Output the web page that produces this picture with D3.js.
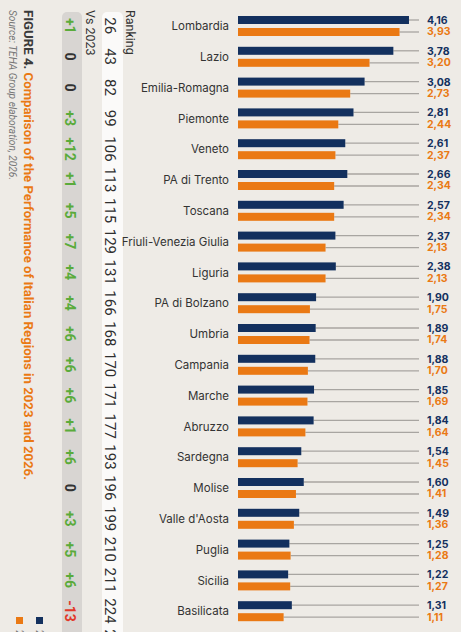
<!DOCTYPE html>
<html lang="en">
<head>
    <meta charset="UTF-8">
    <title>Italian Regions 2023 and 2026</title>
    <script src="https://cdn.jsdelivr.net/npm/d3@7"></script>
    <style>
        body { margin: 0; background: #eeebe6; }
        svg { display: block; }
    </style>
</head>
<body>
<div id="my_dataviz"></div>
<script>

    // data
    const regions = ["Lombardia", "Lazio", "Emilia-Romagna", "Piemonte", "Veneto", "PA di Trento",
        "Toscana", "Friuli-Venezia Giulia", "Liguria", "PA di Bolzano", "Umbria", "Campania",
        "Marche", "Abruzzo", "Sardegna", "Molise", "Valle d'Aosta", "Puglia", "Sicilia",
        "Basilicata", "Calabria"];
    const values2023 = [4.16, 3.78, 3.08, 2.81, 2.61, 2.66, 2.57, 2.37, 2.38, 1.90, 1.89, 1.88,
        1.85, 1.84, 1.54, 1.60, 1.49, 1.25, 1.22, 1.31, 1.00];
    const values2026 = [3.93, 3.20, 2.73, 2.44, 2.37, 2.34, 2.34, 2.13, 2.13, 1.75, 1.74, 1.70,
        1.69, 1.64, 1.45, 1.41, 1.36, 1.28, 1.27, 1.11, 0.95];
    const ranking = ["26", "43", "82", "99", "106", "113", "115", "129", "131", "166", "168", "170",
        "171", "177", "193", "196", "199", "210", "211", "224", "226"];
    const vs2023 = ["+1", "0", "0", "+3", "+12", "+1", "+5", "+7", "+4", "+4", "+6", "+6",
        "+6", "+1", "+6", "0", "+3", "+5", "+6", "-13", "-2"];
    const seriesNames = ["2023", "2026"];

    var width = 461,
        height = 632;
    var navy = "#13305e", orange = "#ea7914";

    var svg = d3.select("#my_dataviz")
        .append("svg")
        .attr("width", width)
        .attr("height", height);

    svg.append("rect")
        .attr("width", width)
        .attr("height", height)
        .attr("fill", "#eeebe6");

    // rows and bars
    const y = d3.scaleBand()
        .domain(regions)
        .range([10.4, 10.4 + regions.length * 30.8]);
    const ySub = d3.scaleBand()
        .domain(seriesNames)
        .range([5.6, 25.6])
        .paddingInner(1 / 3);
    const x = d3.scaleLinear()
        .domain([0, 5])
        .range([238, 443.5]);
    const color = d3.scaleOrdinal().domain(seriesNames).range([navy, orange]);

    const rows = regions.map((r, i) => ({
        region: r,
        rank: ranking[i],
        vs: vs2023[i],
        vals: [{s: "2023", v: values2023[i]}, {s: "2026", v: values2026[i]}]
    }));

    // column strips
    svg.append("rect")
        .attr("x", 102).attr("y", 12)
        .attr("width", 21).attr("height", height + 20)
        .attr("rx", 5)
        .attr("fill", "#fbfaf9");
    svg.append("rect")
        .attr("x", 62).attr("y", 12)
        .attr("width", 20).attr("height", height + 20)
        .attr("rx", 5)
        .attr("fill", "#d8d5d2");

    const row = svg.selectAll(".row")
        .data(rows)
        .enter()
        .append("g")
        .attr("class", "row")
        .attr("transform", d => "translate(0," + y(d.region) + ")");

    row.append("text")
        .attr("x", 229)
        .attr("y", y.bandwidth() / 2 + 0.5)
        .attr("text-anchor", "end")
        .attr("dominant-baseline", "central")
        .style("font-family", "Inter, 'Noto Sans', sans-serif")
        .style("font-size", "11.5px")
        .attr("fill", "#333")
        .text(d => d.region);

    const bar = row.selectAll(".bar")
        .data(d => d.vals)
        .enter()
        .append("g")
        .attr("class", "bar");

    bar.append("line")
        .attr("x1", d => x(d.v))
        .attr("x2", 419)
        .attr("y1", d => ySub(d.s) + ySub.bandwidth() / 2)
        .attr("y2", d => ySub(d.s) + ySub.bandwidth() / 2)
        .attr("stroke", "#a8a5a1")
        .attr("stroke-width", 1.3);

    bar.append("rect")
        .attr("x", x(0))
        .attr("y", d => ySub(d.s))
        .attr("width", d => x(d.v) - x(0))
        .attr("height", ySub.bandwidth())
        .attr("fill", d => color(d.s));

    bar.append("text")
        .attr("x", 427)
        .attr("y", d => ySub(d.s) + ySub.bandwidth() / 2 + (d.s === "2023" ? 0.5 : 0))
        .attr("dominant-baseline", "central")
        .style("font-family", "Inter, 'Noto Sans', sans-serif")
        .style("font-size", "10.5px")
        .style("font-weight", 700)
        .attr("fill", d => color(d.s))
        .text(d => d3.format(".2f")(d.v).replace(".", ","));

    // rotated columns
    row.append("text")
        .attr("transform", "translate(104.5," + (y.bandwidth() / 2) + ") rotate(90)")
        .attr("text-anchor", "middle")
        .style("font-family", "Roboto, sans-serif")
        .style("font-size", "15px")
        .attr("fill", "#2f2f2f")
        .text(d => d.rank);

    row.append("text")
        .attr("transform", "translate(64.5," + (y.bandwidth() / 2) + ") rotate(90)")
        .attr("text-anchor", "middle")
        .style("font-family", "Roboto, sans-serif")
        .style("font-size", "14px")
        .style("font-weight", 700)
        .attr("fill", d => d.vs[0] === "+" ? "#5aab3b" : d.vs[0] === "-" ? "#e2382a" : "#333")
        .text(d => d.vs);

    // headers
    svg.append("text")
        .attr("transform", "translate(126,10) rotate(90)")
        .style("font-family", "Roboto, sans-serif")
        .style("font-size", "12.5px")
        .attr("fill", "#333")
        .text("Ranking");
    svg.append("text")
        .attr("transform", "translate(86,10) rotate(90)")
        .style("font-family", "Roboto, sans-serif")
        .style("font-size", "12.5px")
        .attr("fill", "#333")
        .text("Vs 2023");

    // title and source
    const title = svg.append("text")
        .attr("transform", "translate(23.5,10) rotate(90)")
        .attr("textLength", 470)
        .attr("lengthAdjust", "spacingAndGlyphs")
        .style("font-family", "Roboto, sans-serif")
        .style("font-size", "13px")
        .style("font-weight", 700);
    title.append("tspan").attr("fill", "#3a3a3a").text("FIGURE 4. ");
    title.append("tspan").attr("fill", orange).text("Comparison of the Performance of Italian Regions in 2023 and 2026.");

    svg.append("text")
        .attr("transform", "translate(8.5,10) rotate(90)")
        .attr("textLength", 170)
        .attr("lengthAdjust", "spacingAndGlyphs")
        .style("font-family", "Roboto, sans-serif")
        .style("font-size", "10.5px")
        .style("font-style", "italic")
        .attr("fill", "#777")
        .text("Source: TEHA Group elaboration, 2026.");

    // legend
    const legend = svg.selectAll(".legend")
        .data(seriesNames)
        .enter()
        .append("g")
        .attr("class", "legend")
        .attr("transform", (d, i) => "translate(" + (36 - i * 20) + ",617)");
    legend.append("rect")
        .attr("width", 7).attr("height", 7)
        .attr("fill", d => color(d));
    legend.append("text")
        .attr("transform", "translate(0,13) rotate(90)")
        .style("font-family", "Roboto, sans-serif")
        .style("font-size", "10px")
        .attr("fill", "#777")
        .text(d => d);

</script>

</body>
</html>
